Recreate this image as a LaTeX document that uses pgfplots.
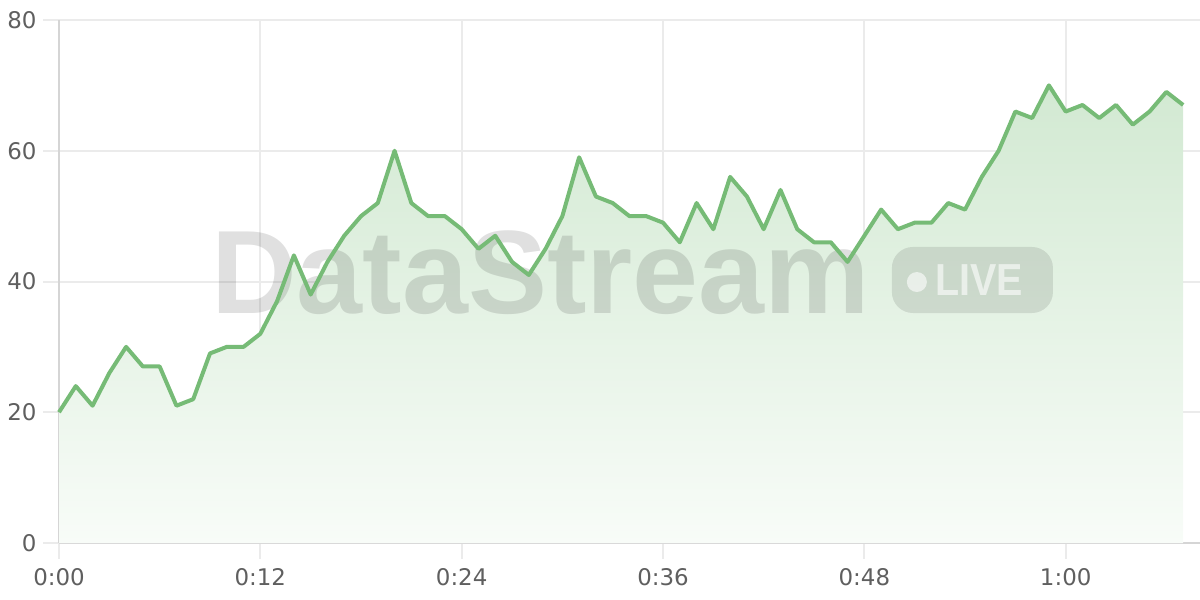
\documentclass[border=0pt]{standalone}
\usepackage{fontspec}
\setmainfont{DejaVu Sans}
\newfontfamily\wmfont{Liberation Sans}
\usepackage{pgfplots}
\pgfplotsset{compat=1.18}

\definecolor{lineGreen}{RGB}{118,187,118}
\definecolor{fillTop}{RGB}{210,233,210}
\definecolor{fillBot}{RGB}{248,252,248}
\definecolor{gridGray}{RGB}{235,235,235}
\definecolor{axisGray}{RGB}{213,213,213}
\definecolor{labelGray}{RGB}{95,95,95}

\pgfplotstableread{
t v
0 20
1 24
2 21
3 26
4 30
5 27
6 27
7 21
8 22
9 29
10 30
11 30
12 32
13 37
14 44
15 38
16 43
17 47
18 50
19 52
20 60
21 52
22 50
23 50
24 48
25 45
26 47
27 43
28 41
29 45
30 50
31 59
32 53
33 52
34 50
35 50
36 49
37 46
38 52
39 48
40 56
41 53
42 48
43 54
44 48
45 46
46 46
47 43
48 47
49 51
50 48
51 49
52 49
53 52
54 51
55 56
56 60
57 66
58 65
59 70
60 66
61 67
62 65
63 67
64 64
65 66
66 69
67 67
}\streamdata

\begin{document}
\begin{tikzpicture}
\path[use as bounding box] (0,0) rectangle (1200bp,600bp);
\begin{axis}[
    at={(59bp,57bp)}, anchor=south west,
    scale only axis,
    width=1141bp, height=523bp,
    xmin=0, xmax=68, ymin=0, ymax=80,
    axis x line*=bottom, axis y line*=left,
    axis line style={draw=axisGray, line width=2bp},
    xtick={0,12,24,36,48,60},
    xticklabels={0:00,0:12,0:24,0:36,0:48,1:00},
    ytick={0,20,40,60,80},
    grid=major,
    major grid style={draw=gridGray, line width=2bp},
    tick align=outside,
    major tick length=16bp,
    major tick style={draw=gridGray, line width=2bp},
    /pgf/number format/assume math mode=true,
    tick label style={font=\fontsize{23}{23}\selectfont, text=labelGray},
    xticklabel style={yshift=-6bp},
    yticklabel style={xshift=-3bp},
    clip=false,
]
\addplot[draw=none, top color=fillTop, bottom color=fillBot] table[x=t, y=v] {\streamdata} \closedcycle;

% watermark
\node[anchor=base, inner sep=0pt, text=black, text opacity=0.12,
      font=\wmfont\bfseries\fontsize{119}{119}\selectfont]
      at (axis cs:28.72,35.18) {DataStream};
\fill[black, opacity=0.1, rounded corners=21bp]
      (axis cs:49.64,35.18) rectangle (axis cs:59.24,45.28);
\fill[white, opacity=0.6] (axis cs:51.13,39.92) circle[radius=10bp];
\node[anchor=base west, inner sep=0pt, text=white, text opacity=0.6,
      font=\wmfont\bfseries\fontsize{45}{45}\selectfont]
      at (axis cs:52.2,37.93) {\scalebox{0.88}[1]{LIVE}};

\addplot[lineGreen, line width=4bp, line join=round, mark=none] table[x=t, y=v] {\streamdata};
\end{axis}
\end{tikzpicture}
\end{document}
